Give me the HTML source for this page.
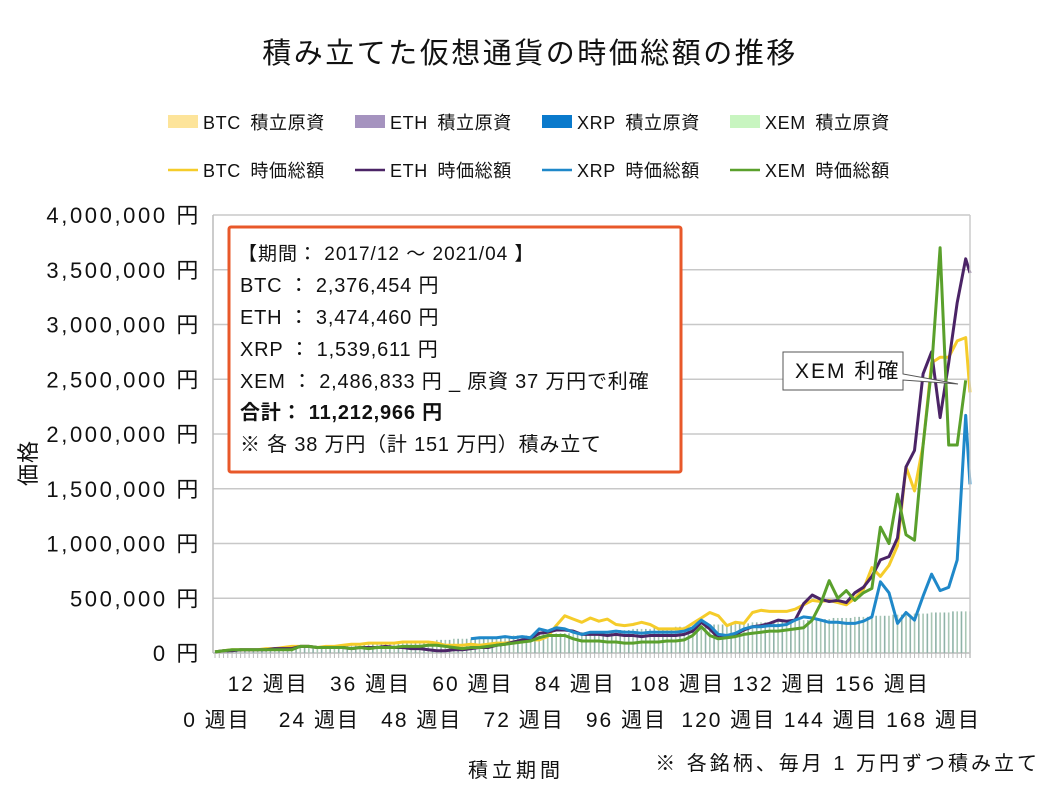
<!DOCTYPE html>
<html><head><meta charset="utf-8">
<style>
body{margin:0;background:#fff;}
svg text{font-family:"Liberation Sans","Noto Sans CJK JP",sans-serif;fill:#111;}
</style></head>
<body>
<svg id="chart" width="1058" height="794" xmlns="http://www.w3.org/2000/svg">
<rect width="1058" height="794" fill="#fff"/>
<text x="530" y="63" font-size="29" letter-spacing="2.5" text-anchor="middle">積み立てた仮想通貨の時価総額の推移</text>
<g id="legend"></g>
<g id="grid"></g><g id="bars"></g><g id="lines"></g><g id="axes"></g>
<text transform="translate(36,463) rotate(-90)" font-size="22" letter-spacing="1" text-anchor="middle">価格</text>
<text x="516" y="777" font-size="20" letter-spacing="4" text-anchor="middle">積立期間</text>
<text x="1040" y="770" font-size="20" letter-spacing="3" text-anchor="end">※ 各銘柄、毎月 1 万円ずつ積み立て</text>
<g>
<rect x="229" y="227" width="452" height="245" fill="#fff" stroke="#e8582a" stroke-width="3" rx="2"/>
<text x="238" y="260" font-size="19" letter-spacing="1">【期間： 2017/12 ～ 2021/04 】</text>
<text x="240" y="292" font-size="20" letter-spacing="0.8">BTC ： 2,376,454 円</text>
<text x="240" y="324" font-size="20" letter-spacing="0.8">ETH ： 3,474,460 円</text>
<text x="240" y="356" font-size="20" letter-spacing="0.8">XRP ： 1,539,611 円</text>
<text x="240" y="388" font-size="20" letter-spacing="0.8">XEM ： 2,486,833 円 _ 原資 37 万円で利確</text>
<text x="240" y="419" font-size="20" letter-spacing="0.8" font-weight="bold">合計： 11,212,966 円</text>
<text x="240" y="451" font-size="20" letter-spacing="0.8">※ 各 38 万円（計 151 万円）積み立て</text>
</g>
<g>
<polygon points="783,352 903,352 903,374 958,384 903,380 903,390 783,390" fill="#fff" stroke="#555" stroke-width="1"/>
<text x="795" y="378" font-size="21" letter-spacing="2">XEM 利確</text>
</g>
</svg>
<script>
const weeks=[0,2,4,6,8,10,12,14,16,18,20,22,24,26,28,30,32,34,36,38,40,42,44,46,48,50,52,54,56,58,60,62,64,66,68,70,72,74,76,78,80,82,84,86,88,90,92,94,96,98,100,102,104,106,108,110,112,114,116,118,120,122,124,126,128,130,132,134,136,138,140,142,144,146,148,150,152,154,156,158,160,162,164,166,168,170,172,174,176,177];
const btc=[1,2,3,3,3,3,4,4,5,6,6,6,5,6,6,7,8,8,9,9,9,9,10,10,10,10,9,7,7,7,8,7,8,9,9,10,11,12,12,15,25,34,31,28,32,29,31,26,25,26,28,26,22,22,22,22,27,32,37,34,25,28,27,37,39,38,38,38,40,44,48,47,48,46,44,50,58,78,70,80,98,170,148,190,265,270,270,285,288,238];
const eth=[1,2,2,3,3,3,3,4,4,4,6,6,5,5,5,5,4,5,5,5,6,5,5,4,4,3,2,2,3,3,4,5,5,7,8,10,12,13,18,19,21,21,20,17,17,17,16,17,16,16,15,16,16,16,16,17,20,28,22,14,15,17,21,24,25,27,30,29,30,45,53,49,47,48,46,55,60,70,85,88,105,170,185,255,275,215,265,320,360,347];
const xrp=[null,null,null,null,null,null,null,null,null,null,null,null,null,null,null,null,null,null,null,null,null,null,null,null,null,null,null,null,null,null,13,14,14,14,15,14,15,14,22,20,23,22,19,17,19,19,19,20,19,19,18,19,19,19,19,20,23,30,25,17,16,18,22,24,24,25,25,26,30,33,32,30,28,28,27,27,29,33,65,55,27,37,30,52,72,57,60,85,217,154];
const xem=[1,2,3,3,3,3,3,3,3,3,6,6,5,5,5,5,4,5,4,5,5,5,6,6,6,7,7,6,5,4,5,5,6,7,8,9,10,11,14,16,16,16,13,11,11,11,10,10,9,9,10,10,10,11,11,12,16,24,16,13,14,15,17,18,19,20,20,21,22,23,30,45,66,50,57,48,55,59,115,100,145,108,103,190,260,370,190,190,249,null];
const principal=[1,1,1,1,1,2,2,2,2,2,3,3,3,3,4,4,4,4,4,5,5,5,5,5,6,6,6,6,7,7,7,7,7,8,8,8,8,8,9,9,9,9,10,10,10,10,10,11,11,11,11,11,12,12,12,12,13,13,13,13,13,14,14,14,14,14,15,15,15,15,16,16,16,16,16,17,17,17,17,17,18,18,18,18,19,19,19,19,19,20,20,20,20,20,21,21,21,21,22,22,22,22,22,23,23,23,23,23,24,24,24,24,25,25,25,25,25,26,26,26,26,26,27,27,27,27,28,28,28,28,28,29,29,29,29,29,30,30,30,30,31,31,31,31,31,32,32,32,32,32,33,33,33,33,34,34,34,34,34,35,35,35,35,35,36,36,36,36,37,37,37,37,37,38,38,38,38,38];
const yTicks=[0,500000,1000000,1500000,2000000,2500000,3000000,3500000,4000000];
const yTickLabels=["0 円","500,000 円","1,000,000 円","1,500,000 円","2,000,000 円","2,500,000 円","3,000,000 円","3,500,000 円","4,000,000 円"];
const xTickWeeks=[0,12,24,36,48,60,72,84,96,108,120,132,144,156,168];
const seriesNames=["BTC","ETH","XRP","XEM"];
const lineColors=["#f5cc2a","#4b2466","#1f88c9","#5aa02c"];
const fillColors=["#fde49a","#a593bf","#0a7acc","#c8f5c0"];

const NS="http://www.w3.org/2000/svg";
const X0=215,X1=970,Y0=653,Y1=215;
function xs(w){return X0+w*(X1-X0)/177;}
function ys(v){return Y0-v/4000000*(Y0-Y1);}
function mk(tag,attrs,parent){const e=document.createElementNS(NS,tag);for(const k in attrs)e.setAttribute(k,attrs[k]);parent.appendChild(e);return e;}
const grid=document.getElementById('grid'),bars=document.getElementById('bars'),lines=document.getElementById('lines'),axes=document.getElementById('axes'),legend=document.getElementById('legend');

yTicks.forEach((t,i)=>{
  const g=mk('line',{x1:213,x2:970,y1:ys(t),y2:ys(t),stroke:i==0?'#bbb':'#c8c8c8','stroke-width':1.5},grid);
  
  
  const tx=mk('text',{x:201,y:ys(t)+8,'font-size':22,'letter-spacing':2.6,'text-anchor':'end'},axes);
  tx.textContent=yTickLabels[i];
  
  
});
mk('line',{x1:213,x2:213,y1:Y1,y2:Y0,stroke:'#bbb','stroke-width':1.5},axes);
mk('line',{x1:970,x2:970,y1:Y1,y2:Y0+5,stroke:'#ccc','stroke-width':1.5},axes);

principal.forEach((p,w)=>{
  const v=p*10000;
  const b=mk('rect',{x:xs(w)-0.8,y:ys(v),width:1.6,height:Y0-ys(v),fill:w%2?'#8fb3a8':'#a9c7b5'},bars);
  
  
  const tk=mk('line',{x1:xs(w),x2:xs(w),y1:Y0,y2:Y0+5,stroke:'#bbb','stroke-width':1},axes);
  
  
});

[btc,eth,xrp,xem].forEach((arr,si)=>{
  let d='',pen=false;
  arr.forEach((v,i)=>{
    if(v===null){pen=false;return;}
    d+=(pen?'L':'M')+xs(weeks[i]).toFixed(1)+','+ys(v*10000).toFixed(1);pen=true;
  });
  const p=mk('path',{d:d,fill:'none',stroke:lineColors[si],'stroke-width':3,'stroke-linejoin':'round'},lines);
  
  
});

xTickWeeks.forEach((w,i)=>{
  const t=mk('text',{x:xs(w)+2,y:i%2?691:727,'font-size':21,'letter-spacing':2,'text-anchor':'middle'},axes);
  t.textContent=w+' 週目';
  
  
});

const legX=[168,355,542,730];
seriesNames.forEach((n,i)=>{
  const r=mk('rect',{x:legX[i],y:115,width:30,height:13,fill:fillColors[i]},legend);
  
  
  const t=mk('text',{x:legX[i]+35,y:129,'font-size':18,'letter-spacing':0.6},legend);
  t.textContent=n+'\u2002積立原資';
  
  
  const l=mk('line',{x1:legX[i],x2:legX[i]+30,y1:170,y2:170,stroke:lineColors[i],'stroke-width':2.5},legend);
  
  
  const t2=mk('text',{x:legX[i]+35,y:177,'font-size':18,'letter-spacing':0.6},legend);
  t2.textContent=n+'\u2002時価総額';
  
  
});
</script>
</body></html>
